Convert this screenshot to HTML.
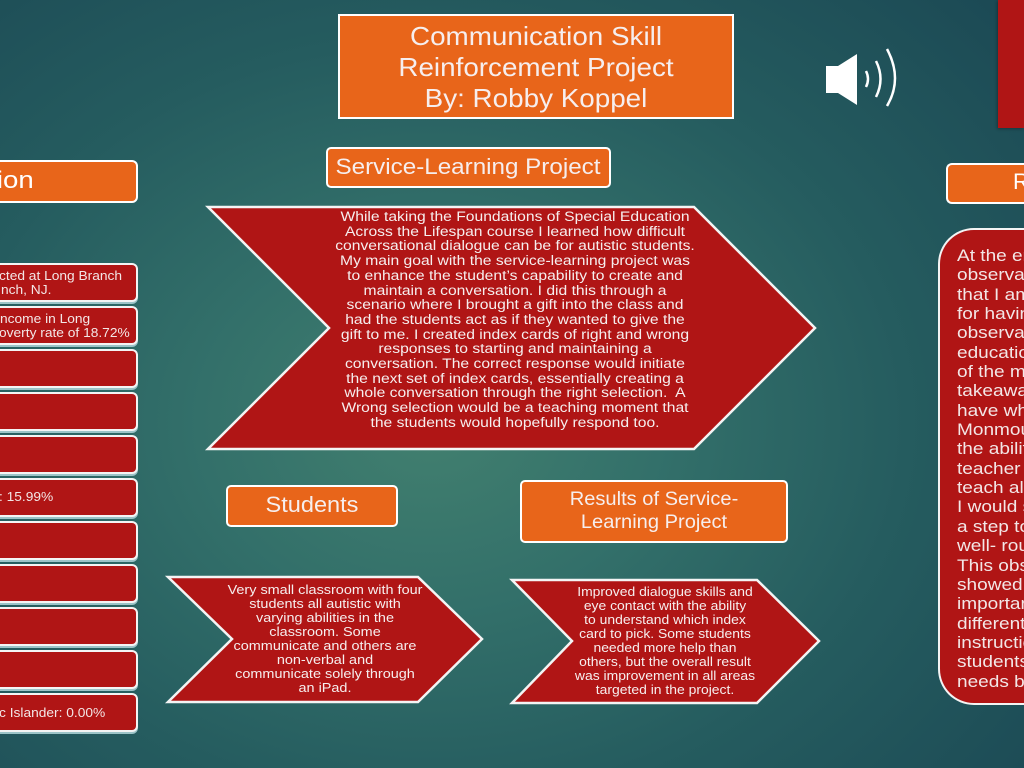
<!DOCTYPE html>
<html><head><meta charset="utf-8">
<style>
html,body{margin:0;padding:0;}
body{width:1024px;height:768px;overflow:hidden;position:relative;
background:radial-gradient(ellipse 75% 80% at 42% 55%, #42806f 0%, #33706a 30%, #255c5f 62%, #1c4a55 100%);
font-family:"Liberation Sans",sans-serif;color:#fff;}
.abs{position:absolute;}
.clip{position:absolute;overflow:hidden;}
.orange{position:absolute;background:#e8651a;border:2px solid #fff;box-sizing:border-box;}
.redbox{position:absolute;left:0;width:138px;height:39px;background:#b01515;border:2px solid #f4f4f4;border-left:none;border-radius:0 6px 6px 0;box-sizing:border-box;box-shadow:0 2px 0 #9cc4c8;}
.lt{position:absolute;left:0;font-size:12.5px;line-height:14px;white-space:nowrap;color:#f3e6e6;transform:scaleX(1.1);transform-origin:left center;}
.ctext{position:absolute;text-align:center;white-space:nowrap;color:#f6eeee;}
</style></head><body>

<!-- top right red rectangle -->
<div class="abs" style="left:998px;top:0;width:26px;height:128px;background:#b01515;box-shadow:-1px 1px 3px rgba(0,0,0,0.3);"></div>

<!-- Title -->
<div class="orange" style="left:338px;top:14px;width:396px;height:105px;"></div>
<div class="ctext" style="left:336px;width:400px;top:21px;font-size:26px;line-height:31px;transform:scaleX(1.07);">Communication Skill<br>Reinforcement Project<br>By: Robby Koppel</div>

<!-- Speaker icon -->
<svg class="abs" style="left:820px;top:44px;" width="85" height="66" viewBox="0 0 85 66">
  <polygon points="6,22 18,22 37,10 37,61 18,49 6,49" fill="#fff"/>
  <path d="M46,27 Q50,35 46,43" stroke="#fff" stroke-width="2.5" fill="none"/>
  <path d="M56,17 Q65,35 56,53" stroke="#fff" stroke-width="2.5" fill="none"/>
  <path d="M67,5 Q83,35 67,62" stroke="#fff" stroke-width="2.5" fill="none"/>
</svg>

<!-- Service-Learning Project header -->
<div class="orange" style="left:326px;top:147px;width:285px;height:41px;border-radius:5px;"></div>
<div class="ctext" style="left:318px;width:300px;top:153px;font-size:22px;line-height:28px;transform:scaleX(1.1);">Service-Learning Project</div>

<!-- Left header -->
<div class="orange" style="left:0;top:160px;width:138px;height:43px;border-left:none;border-radius:0 6px 6px 0;"></div>
<div class="clip" style="left:0;top:160px;width:138px;height:43px;">
  <div class="abs" style="right:104px;top:6px;font-size:24px;line-height:30px;white-space:nowrap;transform:scaleX(1.15);transform-origin:right center;">Location</div>
</div>

<!-- Left red boxes -->
<div class="redbox" style="top:263px;"></div>
<div class="redbox" style="top:306px;"></div>
<div class="redbox" style="top:349px;"></div>
<div class="redbox" style="top:392px;"></div>
<div class="redbox" style="top:435px;"></div>
<div class="redbox" style="top:478px;"></div>
<div class="redbox" style="top:521px;"></div>
<div class="redbox" style="top:564px;"></div>
<div class="redbox" style="top:607px;"></div>
<div class="redbox" style="top:650px;"></div>
<div class="redbox" style="top:693px;"></div>
<div class="clip" style="left:0;top:0;width:136px;height:768px;">
<div class="lt" style="top:269px;left:-1px;">cted at Long Branch</div>
<div class="lt" style="top:283px;left:1px;">nch, NJ.</div>
<div class="lt" style="top:312px;left:0px;">ncome in Long</div>
<div class="lt" style="top:326px;left:-1px;">overty rate of 18.72%</div>
<div class="lt" style="top:490px;left:-1px;">: 15.99%</div>
<div class="lt" style="top:706px;left:-1px;">c Islander: 0.00%</div>
</div>

<!-- Chevrons -->
<svg class="abs" style="left:0;top:0;" width="1024" height="768">
  <polygon points="208,207 694,207 815,328 694,449 208,449 329,328" fill="#b01515" stroke="#f4f4f4" stroke-width="2.5" stroke-linejoin="miter"/>
  <polygon points="168,577 418,577 482,639 418,702 168,702 232,639" fill="#b01515" stroke="#f4f4f4" stroke-width="2.5"/>
  <polygon points="512,580 757,580 819,641 757,703 512,703 572,641" fill="#b01515" stroke="#f4f4f4" stroke-width="2.5"/>
</svg>

<div class="ctext" style="left:315px;width:400px;top:210px;font-size:13.5px;line-height:14.7px;transform:scaleX(1.16);">While taking the Foundations of Special Education<br>Across the Lifespan course I learned how difficult<br>conversational dialogue can be for autistic students.<br>My main goal with the service-learning project was<br>to enhance the student’s capability to create and<br>maintain a conversation. I did this through a<br>scenario where I brought a gift into the class and<br>had the students act as if they wanted to give the<br>gift to me. I created index cards of right and wrong<br>responses to starting and maintaining a<br>conversation. The correct response would initiate<br>the next set of index cards, essentially creating a<br>whole conversation through the right selection.&nbsp; A<br>Wrong selection would be a teaching moment that<br>the students would hopefully respond too.</div>

<!-- Students -->
<div class="orange" style="left:226px;top:485px;width:172px;height:42px;border-radius:5px;"></div>
<div class="ctext" style="left:212px;width:200px;top:491px;font-size:22px;line-height:28px;transform:scaleX(1.07);">Students</div>
<div class="ctext" style="left:225px;width:200px;top:583px;font-size:13px;line-height:14px;transform:scaleX(1.11);">Very small classroom with four<br>students all autistic with<br>varying abilities in the<br>classroom. Some<br>communicate and others are<br>non-verbal and<br>communicate solely through<br>an iPad.</div>

<!-- Results -->
<div class="orange" style="left:520px;top:480px;width:268px;height:63px;border-radius:5px;"></div>
<div class="ctext" style="left:554px;width:200px;top:488px;font-size:19.5px;line-height:23px;transform:scaleX(1.03);">Results of Service-<br>Learning Project</div>
<div class="ctext" style="left:565px;width:200px;top:585px;font-size:13px;line-height:14px;transform:scaleX(1.07);">Improved dialogue skills and<br>eye contact with the ability<br>to understand which index<br>card to pick. Some students<br>needed more help than<br>others, but the overall result<br>was improvement in all areas<br>targeted in the project.</div>

<!-- Right panel -->
<div class="orange" style="left:946px;top:163px;width:78px;height:41px;border-right:none;border-radius:6px 0 0 6px;"></div>
<div class="clip" style="left:946px;top:163px;width:78px;height:41px;">
  <div class="abs" style="left:67px;top:5px;font-size:22px;line-height:28px;white-space:nowrap;">Reflection</div>
</div>
<div class="abs" style="left:938px;top:228px;width:86px;height:477px;background:#b01515;border:2px solid #f4f4f4;border-right:none;border-radius:36px 0 0 36px;box-sizing:border-box;"></div>
<div class="clip" style="left:940px;top:232px;width:84px;height:470px;">
<div class="abs" style="left:17px;top:14px;font-size:17px;line-height:19.35px;white-space:nowrap;color:#f3e6e6;transform:scaleX(1.12);transform-origin:left top;">At the end of my<br>observation I felt<br>that I am grateful<br>for having this<br>observation in special<br>education. One<br>of the most important<br>takeaways that I<br>have when leaving<br>Monmouth would be<br>the ability to<br>teacher and<br>teach all students.<br>I would say this is<br>a step towards a<br>well- rounded teacher.<br>This observation<br>showed me the<br>importance of<br>differentiated<br>instruction because<br>students with special<br>needs benefit from</div>
</div>

</body></html>
